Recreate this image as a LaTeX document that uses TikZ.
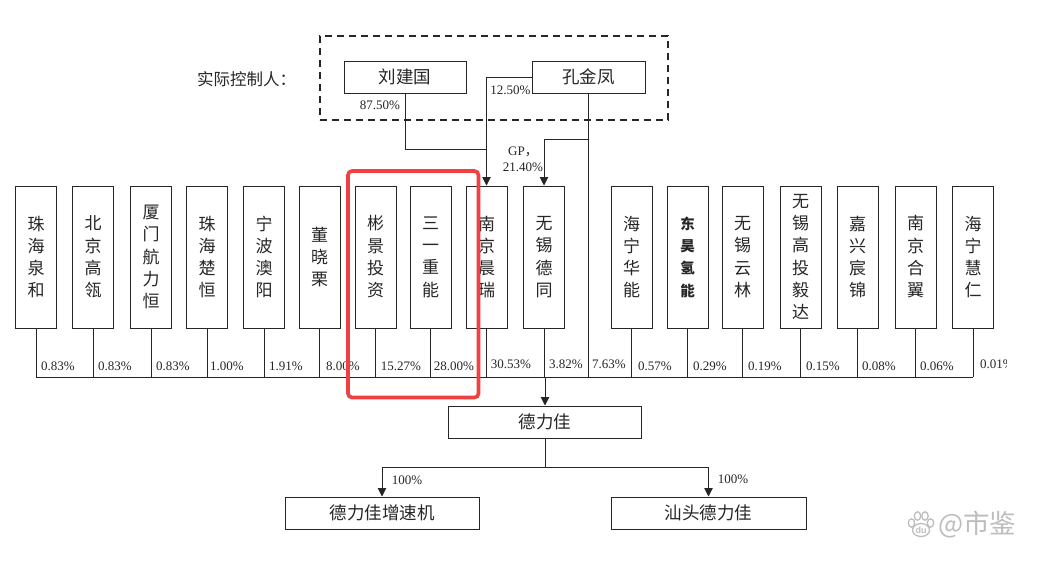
\documentclass[tikz,border=0pt]{standalone}
\usepackage{fontspec}
\setmainfont{Liberation Serif}
\newfontfamily\cjk{Noto Sans CJK SC}
\newfontfamily\wmfont{Liberation Sans}
\usetikzlibrary{arrows.meta,calc}
\definecolor{ink}{HTML}{262626}
\definecolor{redframe}{HTML}{F04040}
\definecolor{wm}{HTML}{BDBDBD}
\tikzset{
  x=1pt,y=-1pt,
  line/.style={draw=ink,line width=0.9pt},
  arrowline/.style={line,-{Triangle[length=8.5pt,width=8.5pt]}},
  holder/.style={draw=ink,line width=1pt,minimum width=41pt,minimum height=142pt,inner sep=0pt,align=center,text=ink,font={\cjk\fontsize{17}{22.3}\selectfont}},
  wide/.style={draw=ink,line width=1pt,minimum height=32pt,inner sep=0pt,text=ink,font={\cjk\fontsize{17.5}{20}\selectfont}},
  pct/.style={inner sep=0pt,text=ink,font={\fontsize{13}{15}\selectfont}},
  wmpad/.style={draw=wm,fill=white,line width=1.3pt},
}
\begin{document}
\begin{tikzpicture}
\useasboundingbox (0,0) rectangle (1040,562);
\fill[white] (0,0) rectangle (1040,562);
% controllers
\node[draw=ink,line width=1.5pt,dash pattern=on 7pt off 5pt,minimum width=348pt,minimum height=84pt,inner sep=0pt] (group) at (494,78) {};
\node[inner sep=0pt,anchor=west,text=ink,font={\cjk\fontsize{16.5}{20}\selectfont}] (title) at (197,79) {实际控制人：};
\node[wide,minimum width=122pt] (liu) at (405,77) {刘建国};
\node[wide,minimum width=113pt] (kong) at (588.5,77) {孔金凤};
% shareholders
\node[holder] (h1) at (36,257) {珠\\海\\泉\\和};
\node[holder] (h2) at (93,257) {北\\京\\高\\瓴};
\node[holder] (h3) at (151,257) {厦\\门\\航\\力\\恒};
\node[holder] (h4) at (207,257) {珠\\海\\楚\\恒};
\node[holder] (h5) at (264,257) {宁\\波\\澳\\阳};
\node[holder] (h6) at (319.5,257) {董\\晓\\栗};
\node[holder] (h7) at (375.5,257) {彬\\景\\投\\资};
\node[holder] (h8) at (430.5,257) {三\\一\\重\\能};
\node[holder] (h9) at (486.5,257) {南\\京\\晨\\瑞};
\node[holder] (h10) at (544,257) {无\\锡\\德\\同};
\node[holder] (h11) at (631.5,257) {海\\宁\\华\\能};
\node[holder,font={\cjk\bfseries\fontsize{14.5}{22.3}\selectfont}] (h12) at (687.5,257) {东\\昊\\氢\\能};
\node[holder] (h13) at (742.5,257) {无\\锡\\云\\林};
\node[holder] (h14) at (800.5,257) {无\\锡\\高\\投\\毅\\达};
\node[holder] (h15) at (857.5,257) {嘉\\兴\\宸\\锦};
\node[holder] (h16) at (915.5,257) {南\\京\\合\\翼};
\node[holder] (h17) at (973,257) {海\\宁\\慧\\仁};
% company and subsidiaries
\node[wide,minimum width=193pt] (dlj) at (545,422) {德力佳};
\node[wide,minimum width=194pt] (sub1) at (382,513) {德力佳增速机};
\node[wide,minimum width=195pt] (sub2) at (708.5,513) {汕头德力佳};
% helper coordinates
\coordinate (busl) at (h1.south |- 0,377);
\coordinate (busr) at (h17.south |- 0,377);
\coordinate (kongdrop) at (kong.south |- 0,377);
\coordinate (dljin) at (dlj.north |- 0,377);
\coordinate (liuturn) at (liu.south |- 0,149);
\coordinate (kongturn) at (kong.south |- 0,139);
\coordinate (subbus) at (dlj.south |- 0,467.5);
% connectors
\draw[line] (busl) -- (busr);
\foreach \n in {1,...,17} {\draw[line] (h\n.south) -- (h\n.south |- busl);}
\draw[line] (kong.south) -- (kongdrop);
\draw[line] (liu.south) -- (liuturn) -- (liuturn -| h9.north);
\draw[arrowline] (kong.west) -| (h9.north);
\draw[arrowline] (kongturn) -| (h10.north);
\draw[arrowline] (dljin) -- (dlj.north);
\draw[line] (dlj.south) -- (subbus);
\draw[arrowline] (subbus) -| (sub1.north);
\draw[arrowline] (subbus) -| (sub2.north);
% labels
\node[pct] (l1) at (380,105) {87.50\%};
\node[pct] (l2) at (510.5,90) {12.50\%};
\node[pct,align=center,font={\fontsize{13}{15.5}\selectfont}] (l3) at (523,159.5) {GP{\cjk ，}\\21.40\%};
\node[pct] (p1) at (58,366) {0.83\%};
\node[pct] (p2) at (115,366) {0.83\%};
\node[pct] (p3) at (173,366) {0.83\%};
\node[pct] (p4) at (227,366) {1.00\%};
\node[pct] (p5) at (286,366) {1.91\%};
\node[pct] (p6) at (343,366) {8.00\%};
\node[pct] (p7) at (401,366) {15.27\%};
\node[pct] (p8) at (454,366) {28.00\%};
\node[pct] (p9) at (511,364) {30.53\%};
\node[pct] (p10) at (566,364) {3.82\%};
\node[pct] (p11) at (609,364) {7.63\%};
\node[pct] (p12) at (655,366) {0.57\%};
\node[pct] (p13) at (710,366) {0.29\%};
\node[pct] (p14) at (765,366) {0.19\%};
\node[pct] (p15) at (823,366) {0.15\%};
\node[pct] (p16) at (879,366) {0.08\%};
\node[pct] (p17) at (937,366) {0.06\%};
\begin{scope}
\clip (970,350) rectangle (1006,380);
\node[pct,anchor=west] (p18) at (980,364) {0.01\%};
\end{scope}
\node[pct] (s1) at (407,480) {100\%};
\node[pct] (s2) at (733,479) {100\%};
% red highlight
\draw[redframe,line width=3.6pt,rounded corners=4pt] (348,171) rectangle (478.5,397.5);
% watermark
\path[wmpad] (911.5,523) ellipse (3.2pt and 4.2pt);
\path[wmpad] (917.5,516) ellipse (3.2pt and 4.2pt);
\path[wmpad] (925,516) ellipse (3.2pt and 4.2pt);
\path[wmpad] (930.5,523) ellipse (3.2pt and 4.2pt);
\path[wmpad] (921,530) ellipse (8.5pt and 6.5pt);
\node[inner sep=0pt,text=wm,font={\wmfont\bfseries\fontsize{9}{9}\selectfont}] (wmdu) at (921,530.5) {du};
\node[inner sep=0pt,anchor=west,text=wm,font={\cjk\fontsize{26.5}{28}\selectfont}] (wmtext) at (938,525) {@市鉴};
\end{tikzpicture}
\end{document}
